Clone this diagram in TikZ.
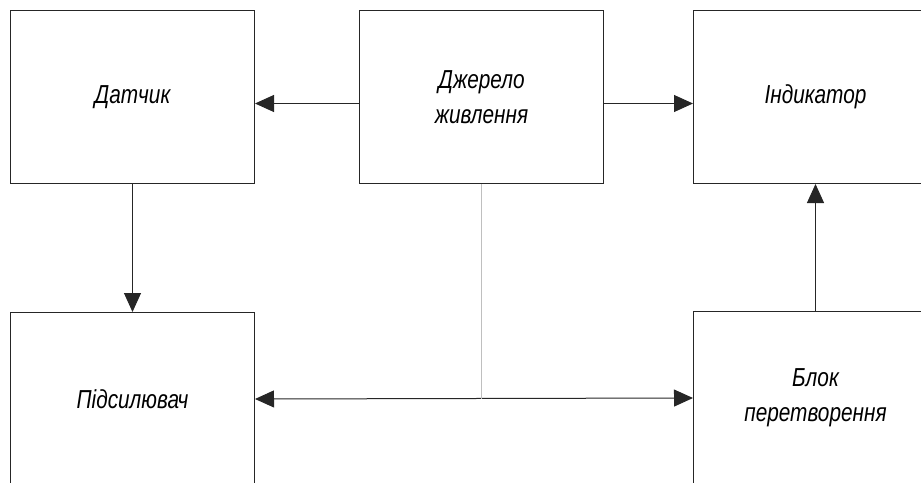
\documentclass[tikz,border=0pt]{standalone}
\usepackage{fontspec}
\setmainfont{Liberation Sans}
\newfontfamily\techfont[FakeStretch=0.8]{Liberation Sans}
\usepackage{tikz}
\usetikzlibrary{arrows.meta, positioning}

\tikzset{
	block/.style = {draw=black!85, line width=1pt, minimum width=244pt, minimum height=173pt,
		align=center, inner sep=0pt, font=\techfont\itshape\fontsize{26}{35}\selectfont},
	arr/.tip = {Triangle[length=19pt, width=17pt]}
}

\begin{document}
\begin{tikzpicture}[x=1pt, y=1pt, line width=1pt]
	\useasboundingbox (0,0) rectangle (921,-482);

	\node (dat) [block, anchor=north west] at (10,-10) {Датчик};
	\node (dzh) [block, right = 104pt of dat] {Джерело\\живлення};
	\node (ind) [block, right = 89pt of dzh] {Індикатор};
	\node (pid) [block, below = 128pt of dat] {Підсилювач};
	\node (blok) [block, below = 127pt of ind] {Блок\\перетворення};
	
	\draw [-arr, black!85] ([yshift=-6.5pt]dzh.west) -- ([yshift=-6.5pt]dat.east);
	\draw [-arr, black!85] ([yshift=-6.5pt]dzh.east) -- ([yshift=-6.5pt]ind.west);
	\draw [-arr, black!85] (dat.south) -- (pid.north);
	\draw [-arr, black!85] (blok.north) -- (ind.south);
	\draw [arr-arr, black!85] (pid.east) -- (blok.west);
	\draw [black!25] (dzh.south) -- (dzh.south |- pid.east);
	
\end{tikzpicture}
\end{document}
